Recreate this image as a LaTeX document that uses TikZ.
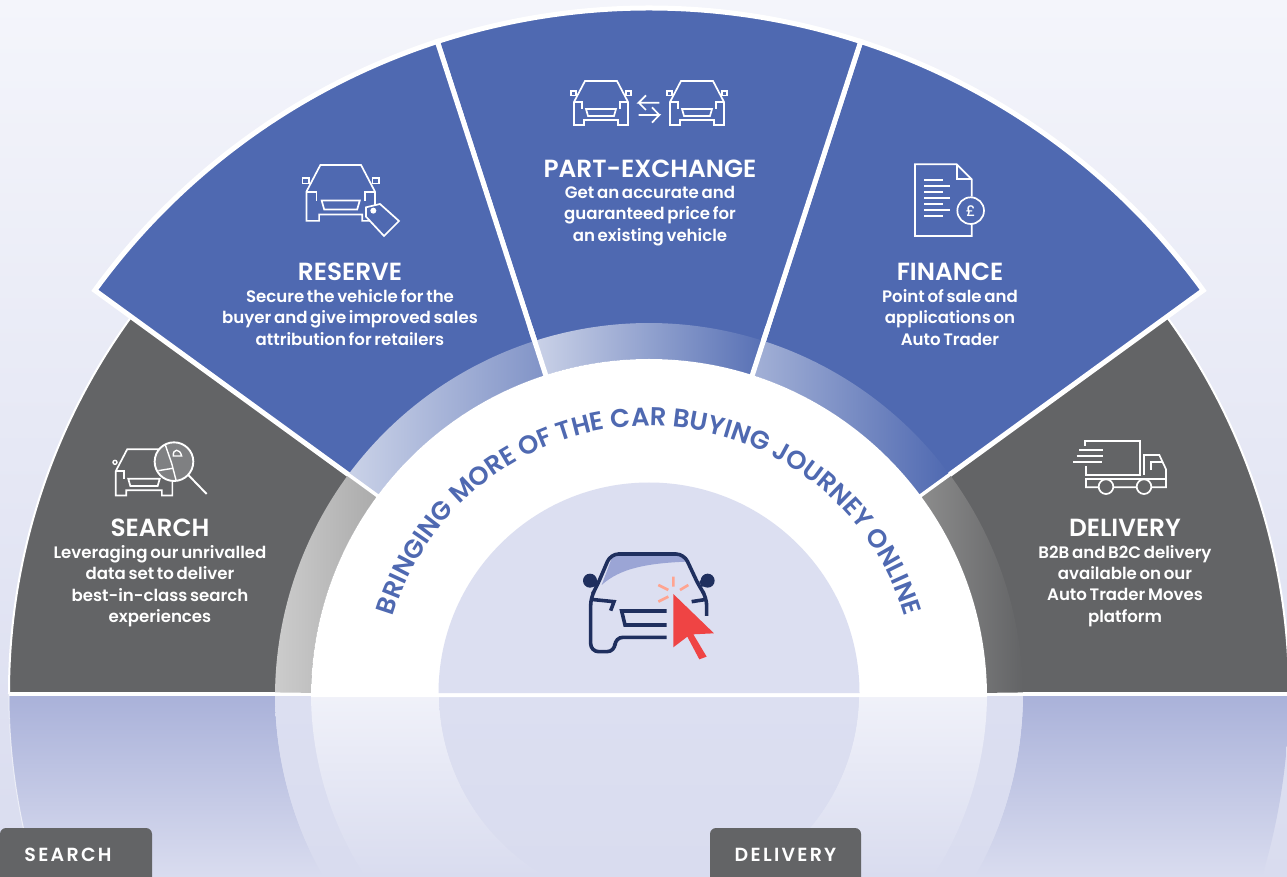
\documentclass[tikz,border=0pt]{standalone}
\usepackage{fontspec}
\setmainfont{Poppins}[UprightFont=* Medium,BoldFont=* SemiBold]
\newfontfamily\bodyfont{Poppins}[UprightFont=* SemiBold,WordSpace=.68]
\usetikzlibrary{positioning,decorations.text}
\definecolor{blueseg}{HTML}{4F69B1}
\definecolor{greyseg}{HTML}{636466}
\definecolor{lilac}{HTML}{DCDFF1}
\definecolor{navy}{HTML}{1F2F5E}
\definecolor{redptr}{HTML}{EF4444}
\definecolor{salmon}{HTML}{FFA490}
\definecolor{bgtop}{HTML}{F4F5FB}
\definecolor{bgbot}{HTML}{D9DCEF}
\definecolor{reflblue}{HTML}{A9B1D9}
\definecolor{glass}{HTML}{9BA5D5}
\tikzset{
  carbody/.pic={
    \begin{scope}[x=1pt,y=-1pt,line width=1.7pt,draw=white,line join=miter]
    \draw (-16,0) -- (16,0) -- (27,21) -- (27,44) -- (17,44) -- (17,39) -- (-17,39) -- (-17,44) -- (-27,44) -- (-27,21) -- cycle;
    \draw (19,28) -- (19,21) -- (27,21);
    \draw (-19,28) -- (-19,21) -- (-27,21);
    \draw (-15,28) -- (15,28) -- (13,35) -- (-13,35) -- cycle;
    \end{scope}
  },
  carmirrors/.pic={
    \begin{scope}[x=1pt,y=-1pt,line width=1.7pt,draw=white]
    \draw (25,10) rectangle (30,14.5);
    \draw (-25,10) rectangle (-30,14.5);
    \end{scope}
  }
}
\begin{document}
\begin{tikzpicture}[
x=1pt,y=1pt,
title/.style={text=white,font=\bfseries\fontsize{24.8}{26}\selectfont,inner sep=0pt},
body/.style={text=white,font=\bodyfont\fontsize{16.6}{21.4}\selectfont,align=center,inner sep=0pt},
tabtxt/.style={text=white,font=\bfseries\fontsize{19}{20}\selectfont\addfontfeature{LetterSpace=12},inner sep=0pt},
blueout/.style={fill=blueseg,draw=white,line width=5pt},
greyout/.style={fill=greyseg,draw=white,line width=2pt},
iconline/.style={draw=white,line width=1.7pt},
node distance=8.5pt
]
\useasboundingbox (0,0) rectangle (1287,876);
\shade[top color=bgtop,bottom color=bgbot] (0,0) rectangle (1287,876);

% reflection under the fan
\begin{scope}[shift={(649,183)}]
\shade[top color=reflblue,bottom color=bgbot] (180:640) arc (180:196.62:640) -- (209.3:374) arc (209.3:180:374) -- cycle;
\shade[top color=reflblue,bottom color=bgbot] (0:640) arc (0:-16.62:640) -- (-29.3:374) arc (-29.3:0:374) -- cycle;
\draw[white,opacity=.6,line width=1pt] (180:640) arc (180:196.62:640);
\shade[top color=lilac,bottom color=bgbot] (180:374) arc (180:209.3:374) -- (212.8:338) arc (212.8:180:338) -- cycle;
\shade[top color=lilac,bottom color=bgbot] (0:374) arc (0:-29.3:374) -- (-32.8:338) arc (-32.8:0:338) -- cycle;
\shade[top color=bgtop!85!lilac,bottom color=bgbot] (180:338) arc (180:212.8:338) -- (240.6:210) arc (240.6:180:210) -- cycle;
\shade[top color=bgtop!85!lilac,bottom color=bgbot] (0:338) arc (0:-32.8:338) -- (-60.6:210) arc (-60.6:0:210) -- cycle;
\shade[top color=lilac,bottom color=bgbot] (180:210) arc (180:240.6:210) -- (299.4:210) arc (299.4:360:210) -- cycle;

% grey and blue segments
\filldraw[greyout] (180:320) -- (180:640) arc (180:144:640) -- (144:320) arc (144:180:320) -- cycle;
\filldraw[greyout] (0:320) -- (0:640) arc (0:36:640) -- (36:320) arc (36:0:320) -- cycle;
\foreach \a/\b in {36/72,72/108,108/144}
  \filldraw[blueout] (\a:320) -- (\a:685) arc (\a:\b:685) -- (\b:320) arc (\b:\a:320) -- cycle;
\end{scope}
\fill[white] (9,180) rectangle (1287,183);

% bands and hub
\begin{scope}[shift={(649,179)}]
\shade[left color=black!20,right color=black!33] (179.3:338) -- (179.3:374) arc (179.3:143.5:374) -- (143.5:338) arc (143.5:179.3:338) -- cycle;
\shade[left color=black!45!white,right color=greyseg] (36.5:374) arc (36.5:0.7:374) -- (0.7:338) arc (0.7:36.5:338) -- cycle;
\shade[left color=blueseg!30!white,right color=blueseg!72!white] (143.5:338) -- (143.5:374) arc (143.5:107.8:374) -- (107.8:338) arc (107.8:143.5:338) -- cycle;
\shade[left color=blueseg!30!white,right color=blueseg!95!white] (107.8:338) -- (107.8:374) arc (107.8:72.2:374) -- (72.2:338) arc (72.2:107.8:338) -- cycle;
\shade[left color=blueseg!52!white,right color=blueseg] (72.2:338) -- (72.2:374) arc (72.2:36.5:374) -- (36.5:338) arc (36.5:72.2:338) -- cycle;
\end{scope}
\begin{scope}[shift={(649,183)}]
\foreach \a in {36,144}
  \draw[white,line width=3.5pt] (\a:325) -- (\a:385);
\foreach \a in {72,108}
  \draw[white,line width=5pt] (\a:325) -- (\a:385);
\end{scope}
\fill[white] (649,179) ++(180:338) arc (180:0:338) -- cycle;
\fill[lilac] (649,183) ++(180:210.5) arc (180:0:210.5) -- cycle;

% curved heading
\path[decorate,decoration={text along path,text align=center,
  text={|\bfseries\fontsize{25.8}{27}\selectfont\color{blueseg}|BRINGING MORE OF THE CAR BUYING JOURNEY ONLINE}}]
  (649,183) ++(172:267) arc (172:8:267);

% hub car
\begin{scope}[shift={(570,336)},x=.3333pt,y=-.3333pt]
\fill[glass] (95,135) -- (130,42) -- (335,42) -- (348,65) .. controls (230,70) and (150,85) .. (95,135) -- cycle;
\draw[navy,line width=3.6pt,rounded corners=8pt] (290,292) -- (135,292) -- (135,335) -- (62,335) -- (62,172) -- (80,140) -- (122,42) -- (342,42) -- (388,140) -- (410,172) -- (410,228);
\draw[navy,line width=3.6pt] (62,178) -- (132,185) -- (122,212);
\draw[navy,line width=3.6pt] (365,185) -- (410,178);
\draw[navy,line width=3.6pt] (290,213) -- (155,213) -- (165,255) -- (290,255);
\fill[navy] (60,122) circle (21);
\fill[navy] (60,103) -- (85,125) -- (78,140) -- (55,140) -- cycle;
\fill[navy] (413,122) circle (21);
\fill[navy] (413,103) -- (388,125) -- (395,140) -- (418,140) -- cycle;
\fill[redptr] (310,162) -- (432,280) -- (370,283) -- (410,350) -- (388,358) -- (352,290) -- (310,322) -- cycle;
\draw[salmon,line width=2.6pt] (310,110) -- (310,140) (330,150) -- (355,135) (265,135) -- (295,150) (265,185) -- (295,170);
\end{scope}

% part exchange icon
\pic at (601,795) {carbody};
\pic at (601,795) {carmirrors};
\pic at (697,795) {carbody};
\pic at (697,795) {carmirrors};
\begin{scope}[shift={(540,816)},x=.3333pt,y=-.3333pt]
\draw[iconline] (318,106) -- (296,128) -- (358,128) (296,128) -- (318,150);
\draw[iconline] (296,165) -- (358,165) -- (336,188) (358,165) -- (336,142);
\end{scope}

% reserve icon
\pic[scale=1.27] at (340.7,711) {carbody};
\pic[scale=1.27] at (340.7,711) {carmirrors};
\begin{scope}[shift={(280,726)},x=.3333pt,y=-.3333pt]
\filldraw[fill=blueseg,draw=white,line width=1.7pt] (258,172) -- (300,162) -- (357,213) -- (312,258) -- (258,200) -- cycle;
\fill[white] (280,182) circle (9);
\end{scope}

% finance icon
\begin{scope}[shift={(890,726)},x=.3333pt,y=-.3333pt]
\draw[iconline] (245,140) -- (245,88) -- (200,43) -- (75,43) -- (75,258) -- (245,258) -- (245,222);
\draw[iconline] (200,43) -- (200,88) -- (245,88);
\foreach \y/\e in {90/160,108/180,126/160,144/180,162/160,180/180,198/160}
  \draw[iconline] (102,\y) -- (\e,\y);
\draw[iconline] (242,182) circle (40);
\node[text=white,font=\fontsize{15}{16}\selectfont,inner sep=0pt] (pound) at (242,182) {£};
\end{scope}

% search icon
\pic[scale=1.05] at (144,426.7) {carbody};
\begin{scope}[shift={(90,446)},x=.3333pt,y=-.3333pt]
\filldraw[fill=greyseg!82!white,draw=white,line width=1.9pt] (252,95) circle (58);
\draw[white,line width=1.4pt] (225,42) -- (245,100) -- (258,150) (205,122) -- (248,115);
\draw[white,line width=1.4pt] (250,78) .. controls (248,55) and (270,55) .. (275,78) -- cycle;
\draw[white,line width=1.9pt] (295,135) -- (350,192);
\draw[white,line width=1.4pt] (75,97) circle (6);
\end{scope}

% delivery icon
\begin{scope}[shift={(1060,446)},x=.3333pt,y=-.3333pt]
\draw[iconline] (75,48) -- (75,33) -- (240,33) -- (240,135) -- (78,135) -- (78,108);
\draw[white,line width=2pt] (57,60) -- (128,60) (50,78) -- (128,78) (40,97) -- (125,97);
\draw[iconline] (252,135) -- (252,75) -- (298,75) -- (318,118) -- (318,172) -- (78,172) -- (78,147) -- (318,147);
\draw[iconline] (272,120) -- (272,97) -- (305,97);
\filldraw[fill=greyseg,draw=white,line width=1.7pt] (138,170) circle (22);
\filldraw[fill=greyseg,draw=white,line width=1.7pt] (252,170) circle (22);
\end{scope}

% segment texts
\node[title] (search) at (160,348.5) {SEARCH};
\node[body,below=of search] (searchtxt) {Leveraging our unrivalled\\data set to deliver\\best-in-class search\\experiences};
\node[title] (reserve) at (350,604.5) {RESERVE};
\node[body,below=of reserve] (reservetxt) {Secure the vehicle for the\\buyer and give improved sales\\attribution for retailers};
\node[title] (partex) at (650,707.5) {PART-EXCHANGE};
\node[body,below=of partex] (partextxt) {Get an accurate and\\guaranteed price for\\an existing vehicle};
\node[title] (finance) at (950,604.5) {FINANCE};
\node[body,below=of finance] (financetxt) {Point of sale and\\applications on\\Auto Trader};
\node[title] (delivery) at (1125,348.5) {DELIVERY};
\node[body,below=of delivery] (deliverytxt) {B2B and B2C delivery\\available on our\\Auto Trader Moves\\platform};

% tabs
\fill[greyseg,rounded corners=6pt] (0,-10) -- (0,48) -- (152,48) -- (152,-10) -- cycle;
\fill[greyseg,rounded corners=6pt] (710,-10) -- (710,48) -- (861,48) -- (861,-10) -- cycle;
\node[tabtxt] (tabsearch) at (68,21) {SEARCH};
\node[tabtxt] (tabdelivery) at (785.5,21) {DELIVERY};
\end{tikzpicture}
\end{document}
